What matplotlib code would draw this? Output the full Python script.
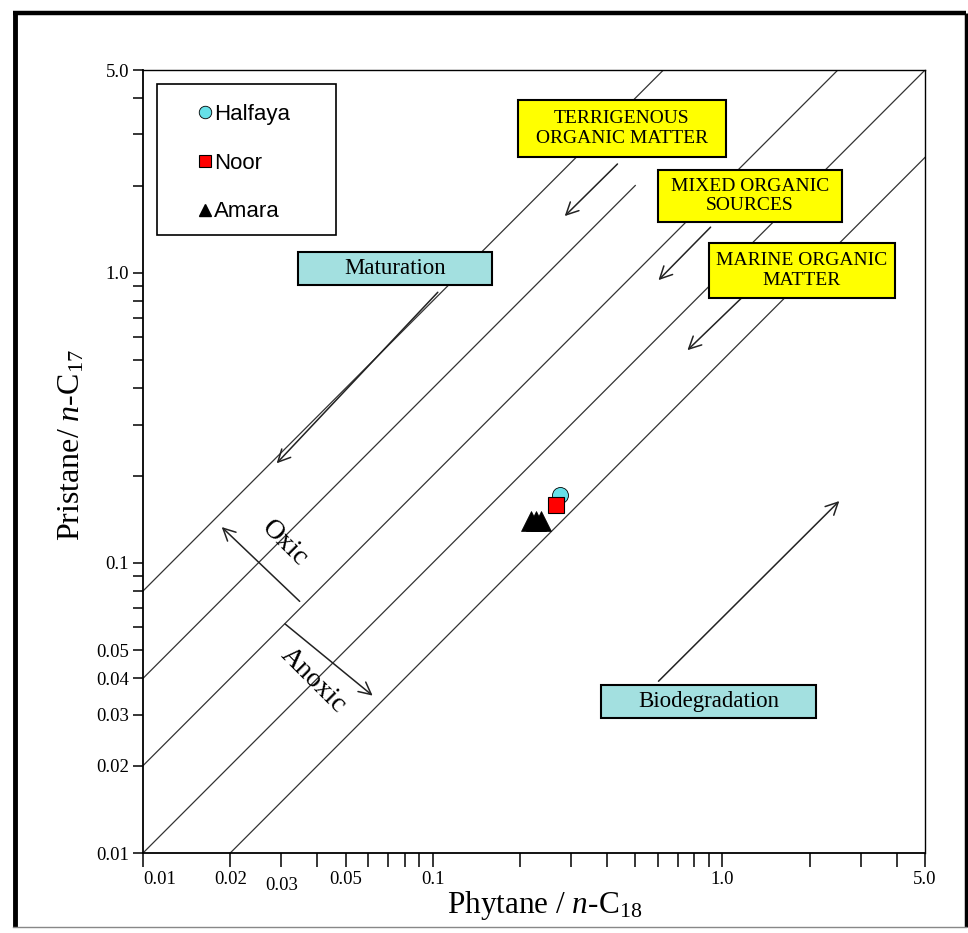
import numpy as np
import matplotlib
matplotlib.use("Agg")
import matplotlib.pyplot as plt
from matplotlib.patches import Rectangle
from matplotlib.lines import Line2D
from matplotlib.ticker import FixedLocator, NullFormatter

plt.rcParams["font.family"] = "Liberation Serif"
plt.rcParams["mathtext.fontset"] = "custom"
plt.rcParams["mathtext.rm"] = "Liberation Serif"
plt.rcParams["mathtext.it"] = "Liberation Serif:italic"

# ── data ──────────────────────────────────────────────
halfaya_ph = [0.274]
halfaya_pr = [0.171]
noor_ph    = [0.266]
noor_pr    = [0.158]
amara_ph   = [0.219, 0.227, 0.237]
amara_pr   = [0.139, 0.139, 0.139]

# Pr/nC17 = k * Ph/nC18 reference lines (k=4 stops short)
line_ratios = [0.5, 1.0, 2.0, 4.0, 8.0]
line_xmax   = [5.0, 5.0, 5.0, 0.5, 5.0]

xtick_major = [0.01, 0.02, 0.03, 0.05, 0.1, 1.0, 5.0]
xtick_text  = ["0.01", "0.02", "0.03", "0.05", "0.1", "1.0", "5.0"]
xtick_minor = [0.04, 0.06, 0.07, 0.08, 0.09, 0.2, 0.3, 0.4, 0.5,
               0.6, 0.7, 0.8, 0.9, 2.0, 3.0, 4.0]
ytick_major = [0.01, 0.02, 0.03, 0.04, 0.05, 0.1, 1.0, 5.0]
ytick_text  = ["0.01", "0.02", "0.03", "0.04", "0.05", "0.1", "1.0", "5.0"]
ytick_minor = [0.06, 0.07, 0.08, 0.09, 0.2, 0.3, 0.4, 0.5, 0.6,
               0.7, 0.8, 0.9, 2.0, 3.0, 4.0]

XMIN, XMAX = 0.01, 5.0
YMIN, YMAX = 0.01, 5.0

# ── figure ────────────────────────────────────────────
fig = plt.figure(figsize=(9.68, 9.33), dpi=100)
ax = fig.add_axes([0.1477, 0.0857, 0.8079, 0.8392])
ax.set_xscale("log")
ax.set_yscale("log")
ax.set_xlim(XMIN, XMAX)
ax.set_ylim(YMIN, YMAX)

# outer frame
fig.add_artist(Line2D([0.0150, 0.0150], [0.0060, 0.9865], transform=fig.transFigure,
                      color="black", lw=3.5, solid_capstyle="butt"))
fig.add_artist(Line2D([0.0135, 0.9975], [0.9865, 0.9865], transform=fig.transFigure,
                      color="black", lw=3.2, solid_capstyle="butt"))
fig.add_artist(Line2D([0.9975, 0.9975], [0.0060, 0.9865], transform=fig.transFigure,
                      color="black", lw=2.5, solid_capstyle="butt"))
fig.add_artist(Line2D([0.0135, 0.9975], [0.0060, 0.0060], transform=fig.transFigure,
                      color="#888888", lw=1.0))

# diagonal source lines
for k, xm in zip(line_ratios, line_xmax):
    x0 = max(XMIN, YMIN / k)
    x1 = min(xm, YMAX / k)
    xs = np.array([x0, x1])
    ax.plot(xs, k * xs, color="#333333", lw=0.9, zorder=1)

# arrows
arr = dict(arrowstyle="->", color="#222222", lw=1.1, mutation_scale=22)
arrows = [
    ((0.1057, 0.871), (0.0285, 0.217)),    # maturation
    ((0.441, 2.41), (0.281, 1.545)),       # terrigenous
    ((0.924, 1.46), (0.592, 0.929)),       # mixed
    ((1.19, 0.837), (0.745, 0.533)),       # marine
    ((0.592, 0.0385), (2.57, 0.166)),      # biodegradation
    ((0.0353, 0.0726), (0.0184, 0.135)),   # oxic
    ((0.0304, 0.0625), (0.0631, 0.0344)),  # anoxic
]
for start, end in arrows:
    ax.annotate("", xy=end, xytext=start, arrowprops=arr, zorder=2)

ax.text(0.0309, 0.117, "Oxic", rotation=-45, fontsize=20,
        ha="center", va="center", rotation_mode="anchor")
ax.text(0.0386, 0.0394, "Anoxic", rotation=-45, fontsize=20,
        ha="center", va="center", rotation_mode="anchor")

# labelled boxes (axes fraction)
boxes = [
    ((0.198, 0.725, 0.248, 0.043), "#a3e0e0", "Maturation", 16.5),
    ((0.5857, 0.1724, 0.2749, 0.0422), "#a3e0e0", "Biodegradation", 16.5),
    ((0.4795, 0.889, 0.266, 0.073), "#ffff00", "TERRIGENOUS\nORGANIC MATTER", 14),
    ((0.6586, 0.806, 0.2353, 0.066), "#ffff00", "MIXED ORGANIC\nSOURCES", 14),
    ((0.7238, 0.709, 0.2378, 0.070), "#ffff00", "MARINE ORGANIC\nMATTER", 14),
]
for (bx, by, bw, bh), fc, txt, fs in boxes:
    ax.add_patch(Rectangle((bx, by), bw, bh, transform=ax.transAxes,
                           facecolor=fc, edgecolor="black", lw=1.5, zorder=4))
    ax.text(bx + bw / 2, by + bh / 2, txt, transform=ax.transAxes,
            ha="center", va="center", fontsize=fs, linespacing=1.2, zorder=5)

# samples
ax.plot(halfaya_ph, halfaya_pr, "o", ms=11.5, mfc="#66e0e8", mec="black",
        mew=0.6, zorder=6, label="Halfaya")
ax.plot(noor_ph, noor_pr, "s", ms=11, mfc="#ff0000", mec="black",
        mew=0.8, zorder=7, label="Noor")
ax.plot(amara_ph, amara_pr, "^", ms=14, mfc="black", mec="black",
        mew=0.5, zorder=8, label="Amara")

# legend box
ax.add_patch(Rectangle((0.0179, 0.7893), 0.2289, 0.1928, transform=ax.transAxes,
                       facecolor="white", edgecolor="black", lw=1.2, zorder=4))
handles = [
    Line2D([], [], ls="none", marker="o", ms=9, mfc="#66e0e8", mec="black", mew=0.6),
    Line2D([], [], ls="none", marker="s", ms=9, mfc="#ff0000", mec="black", mew=0.8),
    Line2D([], [], ls="none", marker="^", ms=9, mfc="black", mec="black"),
]
leg = ax.legend(handles, ["Halfaya", "Noor", "Amara"], loc="upper left",
                bbox_to_anchor=(0.058, 0.971), frameon=False, borderpad=0,
                handlelength=0.5, handletextpad=0.15, labelspacing=1.25,
                prop={"family": "Liberation Sans", "size": 16})
leg.set_zorder(9)

# ticks
ax.xaxis.set_major_locator(FixedLocator(xtick_major))
ax.xaxis.set_minor_locator(FixedLocator(xtick_minor))
ax.yaxis.set_major_locator(FixedLocator(ytick_major))
ax.yaxis.set_minor_locator(FixedLocator(ytick_minor))
ax.set_xticklabels(xtick_text)
ax.set_yticklabels(ytick_text)
ax.xaxis.set_minor_formatter(NullFormatter())
ax.yaxis.set_minor_formatter(NullFormatter())
ax.tick_params(axis="x", which="both", direction="out", length=10, width=1.1,
               pad=3, labelsize=13.5)
ax.tick_params(axis="y", which="both", direction="out", length=7, width=1.1,
               pad=3, labelsize=13.5)
xl = ax.get_xticklabels()
xl[0].set_horizontalalignment("left")
xl[2].set_y(-0.007)

for s in ["top", "right"]:
    ax.spines[s].set_linewidth(1.0)
for s in ["bottom", "left"]:
    ax.spines[s].set_linewidth(1.3)

ax.set_xlabel("Phytane / $\\mathit{n}$-C$_{18}$", fontsize=22.5)
ax.xaxis.set_label_coords(0.513, -0.046)
ax.set_ylabel("Pristane/ $\\mathit{n}$-C$_{17}$", fontsize=23)
ax.yaxis.set_label_coords(-0.072, 0.521)

fig.savefig("out.png", dpi=100)
